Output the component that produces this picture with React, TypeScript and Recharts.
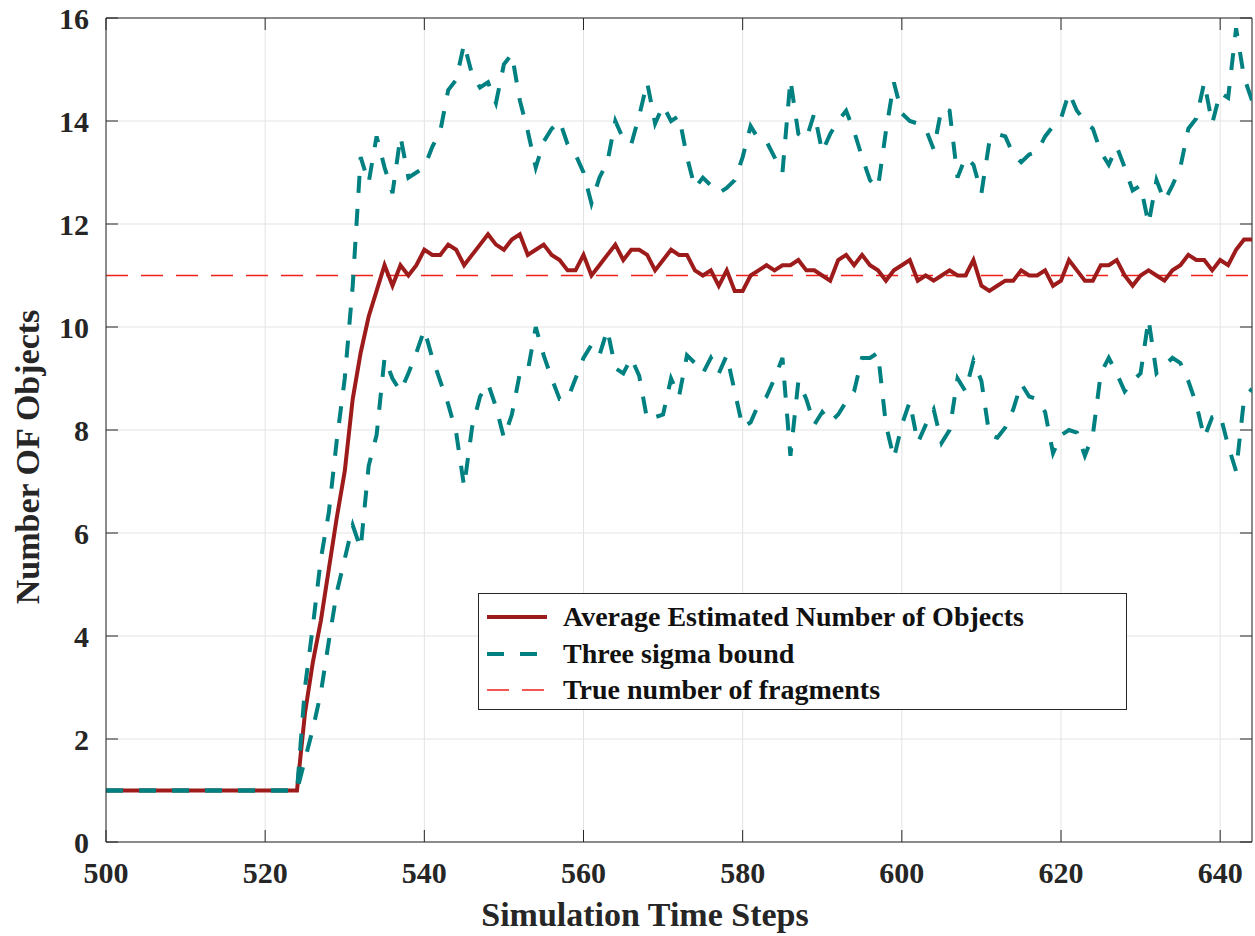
import React from 'react';
import { LineChart, Line, XAxis, YAxis, CartesianGrid, ReferenceLine, Legend } from 'recharts';

const firstStep = 500;

// average estimated number of objects, one value per time step (500..644)
const meanEstimate = [
  1, 1, 1, 1, 1, 1, 1, 1, 1, 1, 1, 1, 1, 1, 1, 1, 1, 1, 1, 1, 1, 1, 1, 1, 1,
  2.5, 3.5, 4.3, 5.3, 6.3, 7.2, 8.6, 9.5, 10.2, 10.7,
  11.2, 10.8, 11.2, 11.0, 11.2, 11.5, 11.4, 11.4, 11.6, 11.5,
  11.2, 11.4, 11.6, 11.8, 11.6, 11.5, 11.7, 11.8, 11.4, 11.5,
  11.6, 11.4, 11.3, 11.1, 11.1, 11.4, 11.0, 11.2, 11.4, 11.6,
  11.3, 11.5, 11.5, 11.4, 11.1, 11.3, 11.5, 11.4, 11.4, 11.1,
  11.0, 11.1, 10.8, 11.1, 10.7, 10.7, 11.0, 11.1, 11.2, 11.1,
  11.2, 11.2, 11.3, 11.1, 11.1, 11.0, 10.9, 11.3, 11.4, 11.2,
  11.4, 11.2, 11.1, 10.9, 11.1, 11.2, 11.3, 10.9, 11.0, 10.9,
  11.0, 11.1, 11.0, 11.0, 11.3, 10.8, 10.7, 10.8, 10.9, 10.9,
  11.1, 11.0, 11.0, 11.1, 10.8, 10.9, 11.3, 11.1, 10.9, 10.9,
  11.2, 11.2, 11.3, 11.0, 10.8, 11.0, 11.1, 11.0, 10.9, 11.1,
  11.2, 11.4, 11.3, 11.3, 11.1, 11.3, 11.2, 11.5, 11.7, 11.7,
];

// upper three sigma bound
const upperBound = [
  1, 1, 1, 1, 1, 1, 1, 1, 1, 1, 1, 1, 1, 1, 1, 1, 1, 1, 1, 1, 1, 1, 1, 1, 1,
  3.0, 4.2, 5.5, 6.4, 7.8, 9.0, 10.8, 13.3, 12.8, 13.7,
  13.1, 12.6, 13.7, 12.9, 13.0, 13.1, 13.5, 13.8, 14.6, 14.8,
  15.5, 14.9, 14.65, 14.75, 14.35, 15.1, 15.3, 14.4, 13.8, 13.1,
  13.6, 13.85, 14.0, 13.55, 13.35, 13.0, 12.4, 12.9, 13.2, 14.0,
  13.65, 13.55, 14.1, 14.75, 13.95, 14.3, 14.0, 14.1, 13.3, 12.7,
  12.9, 12.75, 12.6, 12.7, 12.85, 13.3, 13.9, 13.65, 13.6, 13.3,
  13.0, 14.8, 13.75, 13.65, 14.15, 13.4, 13.75, 14.0, 14.2, 13.8,
  13.3, 12.85, 12.7, 13.8, 14.75, 14.15, 14.0, 13.95, 13.85, 13.45,
  14.25, 14.2, 12.9, 13.3, 13.15, 12.6, 13.6, 13.75, 13.7, 13.35,
  13.2, 13.35, 13.4, 13.7, 13.9, 14.05, 14.55, 14.2, 14.0, 13.85,
  13.4, 13.15, 13.5, 13.1, 12.65, 12.75, 12.0, 12.85, 12.45, 12.75,
  13.1, 13.85, 14.05, 14.75, 13.95, 14.55, 14.45, 15.8, 14.85, 14.4,
];

// lower three sigma bound
const lowerBound = [
  1, 1, 1, 1, 1, 1, 1, 1, 1, 1, 1, 1, 1, 1, 1, 1, 1, 1, 1, 1, 1, 1, 1, 1, 1,
  1.6, 2.2, 2.9, 3.9, 4.85, 5.5, 6.15, 5.7, 7.3, 7.9,
  9.4, 9.0, 8.75, 9.1, 9.5, 9.95, 9.4, 8.95, 8.5, 7.95,
  6.9, 8.05, 8.65, 8.9, 8.45, 7.85, 8.3, 9.1, 9.15, 10.0,
  9.45, 9.0, 8.6, 8.6, 9.0, 9.4, 9.65, 9.45, 9.95, 9.2,
  9.1, 9.4, 9.05, 8.2, 8.25, 8.3, 9.0, 8.65, 9.45, 9.3,
  9.1, 9.4, 9.1, 9.45, 8.75, 8.05, 8.15, 8.5, 8.65, 9.0,
  9.4, 7.5, 8.95, 8.6, 8.1, 8.35, 8.15, 8.3, 8.55, 8.75,
  9.4, 9.4, 9.5, 8.1, 7.45, 8.1, 8.55, 7.75, 8.1, 8.4,
  7.75, 8.0, 9.0, 8.75, 9.35, 8.95, 7.9, 7.85, 8.05, 8.4,
  8.9, 8.65, 8.6, 8.35, 7.55, 7.9, 8.0, 7.95, 7.5, 7.9,
  9.1, 9.4, 9.1, 8.75, 8.95, 9.1, 10.15, 9.1, 9.25, 9.4,
  9.3, 8.95, 8.5, 7.85, 8.25, 8.3, 7.7, 7.2, 8.6, 8.8,
];

const trueFragments = 11;
const xTicks = [500, 520, 540, 560, 580, 600, 620, 640];
const yTicks = [0, 2, 4, 6, 8, 10, 12, 14, 16];
const xDomain = [500, 644];
const yDomain = [0, 16];

const TRUE_RED = '#F0201A';

const legendItems = [
  { label: 'Average Estimated Number of Objects', color: '#9E1B1B', width: 4, dash: '' },
  { label: 'Three sigma bound', color: '#008080', width: 4, dash: '17 16' },
  { label: 'True number of fragments', color: TRUE_RED, width: 1.3, dash: '22 13' },
];

const data = meanEstimate.map((m, i) => ({
  step: firstStep + i,
  mean: m,
  upper: upperBound[i],
  lower: lowerBound[i],
}));

const FONT = "'Liberation Serif', 'Times New Roman', serif";
const INK = '#262626';
const tickFont = { fontSize: 30, fontWeight: 700, fill: INK, fontFamily: FONT };

// MATLAB style inward ticks (12px long)
const tickLenX = 12 / 7.95;
const tickLenY = 12 / 51.5;

const LegendBox = () => (
  <div
    style={{
      border: `1px solid ${INK}`,
      background: '#fff',
      width: 649,
      height: 117,
      boxSizing: 'border-box',
      paddingTop: 5,
    }}
  >
    {legendItems.map((it) => (
      <div key={it.label} style={{ display: 'flex', alignItems: 'center', height: 36.5 }}>
        <svg width={84} height={20} style={{ flex: 'none' }}>
          <line x1={8} y1={10} x2={68} y2={10} stroke={it.color} strokeWidth={it.width} strokeDasharray={it.dash || undefined} />
        </svg>
        <span style={{ fontFamily: FONT, fontWeight: 700, fontSize: 28, color: '#111', lineHeight: '28px' }}>{it.label}</span>
      </div>
    ))}
  </div>
);

const XTitle = () => (
  <text x={645} y={926} textAnchor="middle" fontSize={34} fontWeight={700} fill={INK} fontFamily={FONT}>
    Simulation Time Steps
  </text>
);

const YTitle = () => (
  <text x={39} y={457} transform="rotate(-90 39 457)" textAnchor="middle" fontSize={34} fontWeight={700} fill={INK} fontFamily={FONT}>
    Number OF Objects
  </text>
);

// the "true number" line as a custom shape so its colour is not overridden
const TrueLine = (props: any) => (
  <line
    x1={props.x1}
    y1={props.y1}
    x2={props.x2}
    y2={props.y2}
    stroke={TRUE_RED}
    strokeWidth={1.3}
    strokeDasharray="22 13"
    fill="none"
  />
);

export default function App() {
  return (
    <div style={{ position: 'fixed', left: 0, top: 0, width: 1255, height: 936, background: '#fff' }}>
      <LineChart width={1255} height={936} data={data} margin={{ top: 18, right: 3, bottom: 0, left: 0 }}>
        <CartesianGrid stroke="#E3E3E3" strokeWidth={1} />
        <XAxis
          dataKey="step"
          type="number"
          domain={xDomain}
          ticks={xTicks}
          allowDataOverflow
          height={94}
          tickSize={0}
          tickMargin={20}
          tick={tickFont}
          stroke={INK}
          label={<XTitle />}
        />
        <YAxis
          type="number"
          domain={yDomain}
          ticks={yTicks}
          width={106}
          tickSize={0}
          tickMargin={17}
          tick={tickFont}
          stroke={INK}
          label={<YTitle />}
        />
        <ReferenceLine y={16} stroke={INK} strokeWidth={1} />
        <ReferenceLine x={644} stroke={INK} strokeWidth={1} />
        {xTicks.map((t) => (
          <ReferenceLine key={`xb${t}`} segment={[{ x: t, y: 0 }, { x: t, y: tickLenY }]} stroke={INK} />
        ))}
        {xTicks.map((t) => (
          <ReferenceLine key={`xt${t}`} segment={[{ x: t, y: 16 - tickLenY }, { x: t, y: 16 }]} stroke={INK} />
        ))}
        {yTicks.map((t) => (
          <ReferenceLine key={`yl${t}`} segment={[{ x: 500, y: t }, { x: 500 + tickLenX, y: t }]} stroke={INK} />
        ))}
        {yTicks.map((t) => (
          <ReferenceLine key={`yr${t}`} segment={[{ x: 644 - tickLenX, y: t }, { x: 644, y: t }]} stroke={INK} />
        ))}
        <ReferenceLine y={trueFragments} stroke={TRUE_RED} strokeWidth={1.3} strokeDasharray="22 13" shape={<TrueLine />} />
        <Line type="linear" dataKey="mean" stroke="#9E1B1B" strokeWidth={4} dot={false} isAnimationActive={false} />
        <Line type="linear" dataKey="upper" stroke="#008080" strokeWidth={4} strokeDasharray="17 16" dot={false} isAnimationActive={false} />
        <Line type="linear" dataKey="lower" stroke="#008080" strokeWidth={4} strokeDasharray="17 16" dot={false} isAnimationActive={false} />
        <Legend
          layout="horizontal"
          verticalAlign="middle"
          align="center"
          content={<LegendBox />}
          wrapperStyle={{ left: 478, top: 593, width: 649, height: 117 }}
        />
      </LineChart>
    </div>
  );
}
